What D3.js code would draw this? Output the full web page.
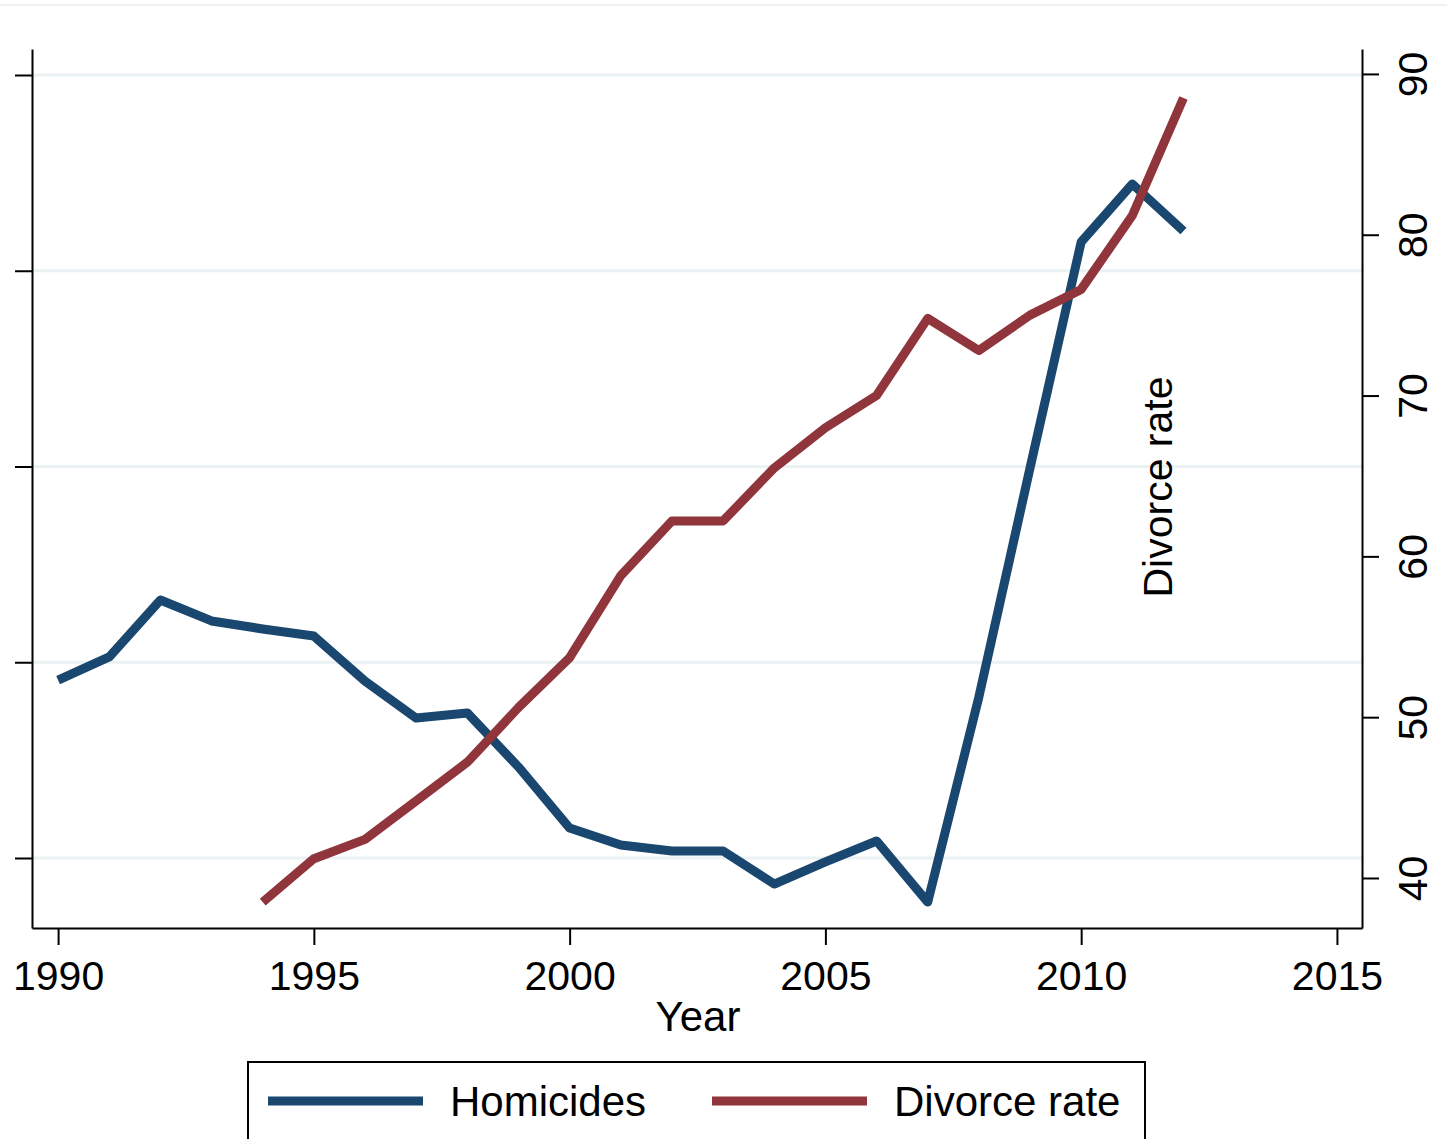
<!DOCTYPE html>
<html>
<head>
<meta charset="utf-8">
<script src="https://cdn.jsdelivr.net/npm/d3@7"></script>
<style>
  body { margin: 0; background: #fff; }
  svg text { font-family: "Liberation Sans", Arial, sans-serif; fill: #000; }
</style>
</head>
<body>
<div id="chart"></div>
<script>
var years = d3.range(1990, 2013);
var homicides = [1909, 2027, 2318, 2211, 2170, 2134, 1904, 1715, 1741, 1465, 1153, 1066,
                 1036, 1036, 867, 980, 1087, 775, 1822, 2992, 4147, 4443, 4203];
var divorceYears = d3.range(1994, 2013);
var divorceRate = [38.5, 41.2, 42.4, 44.8, 47.2, 50.6, 53.7, 58.8, 62.2, 62.2, 65.5,
                   68.0, 70.0, 74.8, 72.8, 75.0, 76.6, 81.2, 88.5];
var xTicks = [1990, 1995, 2000, 2005, 2010, 2015];
var leftTicks = [1000, 2000, 3000, 4000, 5000];
var rightTicks = [40, 50, 60, 70, 80, 90];
var seriesNames = ["Homicides", "Divorce rate"];
var colors = ["#1a476f", "#90353b"];

var W = 1447, H = 1139,
    plot = {left: 32, right: 1362, top: 49, bottom: 928};

var svg = d3.select("#chart").append("svg")
    .attr("width", W)
    .attr("height", H);

// faint outer line at top
svg.append("line")
    .attr("x1", 0).attr("x2", W)
    .attr("y1", 5).attr("y2", 5)
    .attr("stroke", "#eef2f4").attr("stroke-width", 2);

var x = d3.scaleLinear().domain([1989.49, 2015.49]).range([plot.left, plot.right]);
var yL = d3.scaleLinear().domain([642.4, 5132.8]).range([plot.bottom, plot.top]);
var yR = d3.scaleLinear().domain([36.89, 91.55]).range([plot.bottom, plot.top]);

// gridlines from left axis
svg.append("g").selectAll("line")
    .data(leftTicks)
    .enter().append("line")
    .attr("x1", plot.left).attr("x2", plot.right)
    .attr("y1", d => yL(d)).attr("y2", d => yL(d))
    .attr("stroke", "#eaf2f3").attr("stroke-width", 3);

function styleAxis(g) {
    g.selectAll("path.domain").attr("stroke", "#000").attr("stroke-width", 2);
    g.selectAll(".tick line").attr("stroke", "#000").attr("stroke-width", 2);
}

// left axis (no labels)
svg.append("g")
    .attr("transform", "translate(" + plot.left + ",0)")
    .call(d3.axisLeft(yL).tickValues(leftTicks).tickSize(17).tickSizeOuter(0).tickFormat(""))
    .call(styleAxis);

// right axis
var gR = svg.append("g")
    .attr("transform", "translate(" + plot.right + ",0)")
    .call(d3.axisRight(yR).tickValues(rightTicks).tickSize(17).tickSizeOuter(0).tickFormat(d3.format("d")))
    .call(styleAxis);
gR.selectAll(".tick text")
    .attr("font-size", 41)
    .attr("font-family", "Liberation Sans, Arial, sans-serif")
    .attr("text-anchor", "middle")
    .attr("x", 0).attr("dy", 0)
    .attr("transform", "translate(51,0) rotate(-90)")
    .attr("dominant-baseline", "central")
    .attr("fill", "#000");

// bottom axis
var gB = svg.append("g")
    .attr("transform", "translate(0," + plot.bottom + ")")
    .call(d3.axisBottom(x).tickValues(xTicks).tickSize(17).tickSizeOuter(0).tickFormat(d3.format("d")))
    .call(styleAxis);
gB.selectAll(".tick text")
    .attr("font-size", 41)
    .attr("font-family", "Liberation Sans, Arial, sans-serif")
    .attr("y", 62).attr("dy", 0)
    .attr("fill", "#000");

// axis titles
svg.append("text")
    .attr("x", 698).attr("y", 1031)
    .attr("text-anchor", "middle")
    .attr("font-size", 42)
    .text("Year");

svg.append("text")
    .attr("transform", "translate(1172,487) rotate(-90)")
    .attr("text-anchor", "middle")
    .attr("font-size", 41)
    .text("Divorce rate");

// lines
var lineL = d3.line().x(d => x(d[0])).y(d => yL(d[1]));
var lineR = d3.line().x(d => x(d[0])).y(d => yR(d[1]));

svg.append("path")
    .datum(d3.zip(years, homicides))
    .attr("fill", "none")
    .attr("stroke", colors[0])
    .attr("stroke-width", 9)
    .attr("stroke-linejoin", "round")
    .attr("d", lineL);

svg.append("path")
    .datum(d3.zip(divorceYears, divorceRate))
    .attr("fill", "none")
    .attr("stroke", colors[1])
    .attr("stroke-width", 9)
    .attr("stroke-linejoin", "round")
    .attr("d", lineR);

// legend
var legend = svg.append("g");
legend.append("rect")
    .attr("x", 248).attr("y", 1062)
    .attr("width", 897).attr("height", 100)
    .attr("fill", "#fff")
    .attr("stroke", "#000").attr("stroke-width", 2);

var items = [{x: 268, name: seriesNames[0], color: colors[0]},
             {x: 712, name: seriesNames[1], color: colors[1]}];
items.forEach(function(it) {
    legend.append("line")
        .attr("x1", it.x).attr("x2", it.x + 155)
        .attr("y1", 1101).attr("y2", 1101)
        .attr("stroke", it.color).attr("stroke-width", 9);
    legend.append("text")
        .attr("x", it.x + 182).attr("y", 1116)
        .attr("font-size", 42)
        .text(it.name);
});
</script>
</body>
</html>
